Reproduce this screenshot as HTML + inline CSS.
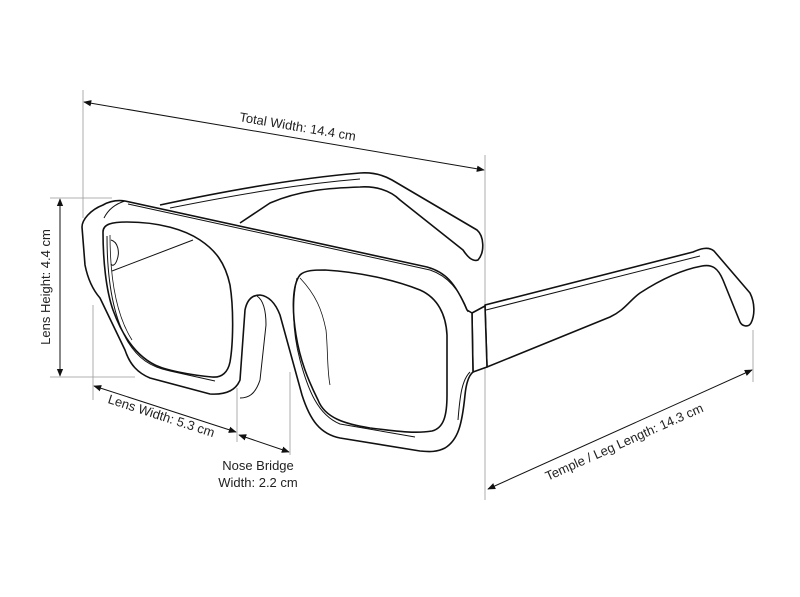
<!DOCTYPE html>
<html><head><meta charset="utf-8"><style>
html,body{margin:0;padding:0;background:#fff}
svg{display:block}
text{font-family:"Liberation Sans",sans-serif;font-size:13px;fill:#222}
</style></head><body>
<svg width="800" height="597" viewBox="0 0 800 597" xmlns="http://www.w3.org/2000/svg">
<defs>
<marker id="a" viewBox="0 0 10 10" refX="9" refY="5" markerWidth="8" markerHeight="8" orient="auto-start-reverse"><path d="M0,1 L10,5 L0,9 z" fill="#111"/></marker>
</defs>
<!-- guides -->
<g stroke="#999" stroke-width="0.8" fill="none">
<line x1="83" y1="90" x2="83" y2="218"/>
<line x1="485" y1="155" x2="485" y2="500"/>
<line x1="50" y1="198" x2="112" y2="198"/>
<line x1="50" y1="377" x2="135" y2="377"/>
<line x1="93" y1="305" x2="93" y2="400"/>
<line x1="237" y1="388" x2="237" y2="442"/>
<line x1="290" y1="372" x2="290" y2="455"/>
<line x1="753" y1="330" x2="753" y2="382"/>
</g>
<!-- dimension arrows -->
<g stroke="#111" stroke-width="1" fill="none">
<line x1="84" y1="102" x2="484" y2="170" marker-start="url(#a)" marker-end="url(#a)"/>
<line x1="60" y1="199" x2="60" y2="376" marker-start="url(#a)" marker-end="url(#a)"/>
<line x1="94" y1="386" x2="236" y2="432" marker-start="url(#a)" marker-end="url(#a)"/>
<line x1="239" y1="435" x2="289" y2="452" marker-start="url(#a)" marker-end="url(#a)"/>
<line x1="488" y1="489" x2="752" y2="370" marker-start="url(#a)" marker-end="url(#a)"/>
</g>
<text x="297" y="131" text-anchor="middle" transform="rotate(9.6 297 131)">Total Width: 14.4 cm</text>
<text x="50" y="287" text-anchor="middle" transform="rotate(-90 50 287)">Lens Height: 4.4 cm</text>
<text x="160" y="420" text-anchor="middle" transform="rotate(18 160 420)">Lens Width: 5.3 cm</text>
<text x="258" y="470" text-anchor="middle">Nose Bridge</text>
<text x="258" y="487" text-anchor="middle">Width: 2.2 cm</text>
<text x="626" y="446" text-anchor="middle" transform="rotate(-24 626 446)">Temple / Leg Length: 14.3 cm</text>
<!-- glasses -->
<g stroke="#111" stroke-width="1.6" fill="none" stroke-linejoin="round">
<!-- back temple -->
<path d="M160,205 C230,190 300,178 360,173 C375,172 385,176 392,180 L477,230 C484,236 485,252 478,260 C472,262 467,256 463,250 L400,200 C390,190 375,186 360,187 C330,188 300,190 270,203 L240,223" fill="#fff"/>
<path d="M170,208 C240,194 300,184 360,179" stroke-width="1"/>
<!-- right temple -->
<path d="M485,305 L693,252 C700,249 708,246 714,251 L750,293 C755,303 755,315 751,323 C748,328 742,326 740,322 L723,280 C718,268 712,264 702,266 C680,270 660,280 640,293 C630,300 625,310 610,317 L487,367 Z" fill="#fff"/>
<path d="M486,310 L700,256" stroke-width="1"/>
<!-- hinge block -->
<path d="M472,313 L485,306 L487,367 L473,372 Z" fill="#fff"/>
<!-- front frame -->
<path d="M82,227 C82,220 90,210 103,205 C110,201 118,200 125,201 L427,267 C445,272 455,282 467,310 L472,313 L473,372 C468,376 466,385 465,395 C462,425 458,440 445,448 C437,452 430,452 420,451 L340,438 C320,434 310,420 302,395 L280,315 C275,302 268,296 260,295 C252,295 247,300 245,310 L240,380 C236,390 226,395 210,394 L150,378 C138,373 130,365 125,350 L100,298 C93,290 88,280 85,265 Z" fill="#fff"/>
<path d="M125,201 C115,204 108,210 104,218" stroke-width="1"/>
<path d="M128,204 L430,270 C448,276 460,290 468,312" stroke-width="1"/>
<path d="M257,296 C263,300 266,310 266,325 L260,380 C255,395 248,398 240,398" stroke-width="1"/>
<path d="M470,372 C462,380 460,395 458,420" stroke-width="1"/>
<!-- left lens -->
<path d="M103,232 C103,224 112,222 127,222 C160,222 185,230 200,240 C215,250 225,262 230,285 C234,310 233,345 230,362 C228,372 222,378 212,377 C190,375 165,370 155,365 C135,355 122,335 113,310 C106,290 103,260 103,232 Z"/>
<path d="M107,236 C107,285 115,320 128,342 C138,358 150,367 170,371 L215,381" stroke-width="1"/>
<path d="M110,235 C110,285 118,318 132,340" stroke-width="0.8"/>
<path d="M111,240 C118,242 120,252 117,260 C115,266 112,266 111,264" stroke-width="1"/>
<path d="M112,271 L193,240" stroke-width="1"/>
<!-- right lens -->
<path d="M300,275 C305,270 315,270 325,270 C360,272 395,280 420,290 C438,298 446,315 447,335 L447,395 C447,415 444,428 432,431 C415,434 395,431 370,428 C345,424 325,418 318,400 C308,380 300,360 296,335 C292,310 292,285 300,275 Z"/>
<path d="M297,278 C292,300 292,330 300,360 C308,390 318,415 340,424 L415,437" stroke-width="1"/>
<path d="M300,278 C316,295 322,310 326,330 C328,350 327,370 330,385" stroke-width="0.8"/>
</g>
</svg>
</body></html>
